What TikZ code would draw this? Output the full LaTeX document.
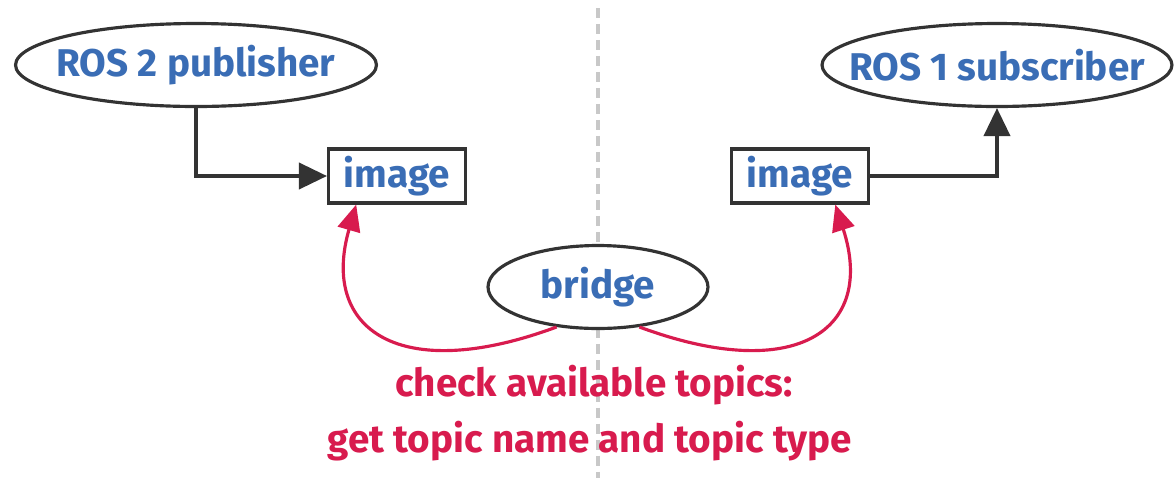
\documentclass[tikz,border=0pt]{standalone}
\usepackage{fontspec}
\setmainfont{Fira Sans}
\usetikzlibrary{positioning,shapes.geometric,arrows.meta}
\definecolor{rosblue}{HTML}{3A6DB5}
\definecolor{crimson}{HTML}{D81B4E}
\definecolor{outline}{HTML}{333333}
\definecolor{divgray}{HTML}{C8C8C8}

\begin{document}
\begin{tikzpicture}[x=0.02cm,y=-0.02cm,
    proc/.style={ellipse,draw=outline,fill=white,line width=1.8pt,text=rosblue,
      font=\bfseries\fontsize{22}{26}\selectfont,inner xsep=-14pt,inner ysep=0pt,minimum height=1.66cm},
    topicbox/.style={rectangle,draw=outline,fill=white,line width=1.8pt,text=rosblue,
      font=\bfseries\fontsize{22}{26}\selectfont,inner sep=0pt,minimum width=2.74cm,minimum height=1.08cm},
    link/.style={draw=outline,line width=1.8pt,-{Triangle[length=16pt,width=15pt]}},
    query/.style={draw=crimson,line width=1.8pt,-{Triangle[length=15pt,width=13pt]}},
    note/.style={text=crimson,font=\bfseries\fontsize{22}{26}\selectfont,inner sep=0pt}]
\useasboundingbox (0,0) rectangle (1174,478);
% divider between ROS 2 and ROS 1 side
\coordinate (divtop) at (598,8);
\coordinate (divbot) at (598,478);
\draw[divgray,line width=1.8pt,dash pattern=on 5.7pt off 3.4pt] (divtop) -- (divbot);
% nodes
\node[proc,minimum width=7.22cm] (pub) at (196,65) {ROS 2 publisher};
\node[proc,minimum width=7.0cm] (sub) at (997,65) {ROS 1 subscriber};
\node[topicbox] (imgL) at (397,176) {image};
\node[topicbox] (imgR) at (800,176) {image};
\node[proc,minimum width=4.4cm] (bridge) at (598,287) {bridge};
% connections
\draw[link] (pub.south) |- (imgL.west);
\draw[link] (imgR.east) -| (sub.south);
\draw[query] (bridge.224) .. controls (400,385) and (320,330) .. (imgL.215);
\draw[query] (bridge.316) .. controls (796,385) and (876,330) .. (imgR.321);
% labels
\node[note] (check) at (594,385) {check available topics:};
\node[note] (getinfo) at (590,441) {get topic name and topic type};
\end{tikzpicture}
\end{document}
